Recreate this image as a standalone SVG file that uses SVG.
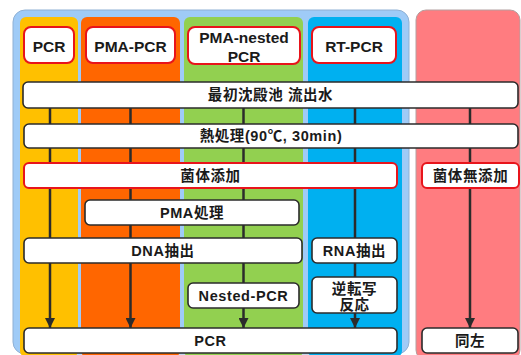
<svg xmlns="http://www.w3.org/2000/svg" width="521" height="355" viewBox="0 0 521 355">
<defs>
<marker id="ah" viewBox="0 0 10 10" refX="10" refY="5" markerWidth="4" markerHeight="4" markerUnits="strokeWidth" orient="auto">
<path d="M0,0 L10,5 L0,10 z" fill="#2b2b2b"/>
</marker>
<style>
.bg{fill:#ffffff}
.panel{stroke:#8fb0d4;stroke-width:1}
.col{stroke:none}
.hdr{fill:#ffffff;stroke:#e8141b;stroke-width:2}
.box{fill:#ffffff;stroke:#2b2b2b;stroke-width:1.6}
.rbox{fill:#ffffff;stroke:#e8141b;stroke-width:2}
.ln{stroke:#2b2b2b;stroke-width:2.5;fill:none;marker-end:url(#ah)}
text{font-family:"Liberation Sans","Noto Sans CJK JP",sans-serif;font-weight:bold;fill:#1a1a1a;text-anchor:middle}
.ht{font-size:15.5px}
.bt{font-size:14.5px;letter-spacing:0.6px}
</style>
</defs>
<rect x="0" y="0" width="521" height="355" class="bg"/>
<g id="panels">
<rect x="13" y="10" width="396" height="344" rx="12" fill="#9fcbf7" class="panel"/>
<rect x="20" y="17" width="58" height="340" rx="6" fill="#ffc000" class="col"/>
<rect x="81" y="17" width="99" height="340" rx="6" fill="#ff6600" class="col"/>
<rect x="184" y="17" width="119" height="340" rx="6" fill="#92d050" class="col"/>
<rect x="308" y="17" width="94" height="340" rx="6" fill="#00b0f0" class="col"/>
<rect x="416" y="10" width="104" height="350" rx="10" fill="#ff7c80" stroke="#b3a0a0" stroke-width="1"/>
</g>
<g id="connectors">
<line x1="50" y1="100" x2="50" y2="328" class="ln"/>
<line x1="130.5" y1="100" x2="130.5" y2="328" class="ln"/>
<line x1="243.5" y1="100" x2="243.5" y2="328" class="ln"/>
<line x1="355" y1="100" x2="355" y2="328" class="ln"/>
<line x1="470" y1="100" x2="470" y2="328" class="ln"/>
</g>
<g id="h-pcr"><rect x="24" y="27" width="50" height="36" rx="7" class="hdr"/><text x="49" y="52" class="ht">PCR</text></g>
<g id="h-pma-pcr"><rect x="86" y="27" width="89" height="36" rx="7" class="hdr"/><text x="130.5" y="52" class="ht">PMA-PCR</text></g>
<g id="h-pma-nested"><rect x="188" y="27" width="112" height="37" rx="7" class="hdr"/><text x="244" y="43" class="ht">PMA-nested</text><text x="244" y="62" class="ht">PCR</text></g>
<g id="h-rt-pcr"><rect x="312" y="27" width="84" height="36" rx="7" class="hdr"/><text x="354" y="52" class="ht">RT-PCR</text></g>
<g id="n-influent"><rect x="23" y="82" width="495" height="26" rx="5" class="box"/><text x="270.5" y="100" class="bt">最初沈殿池 流出水</text></g>
<g id="n-heat"><rect x="24" y="124" width="494" height="24" rx="5" class="box"/><text x="271" y="141" class="bt">熱処理(90℃, 30min)</text></g>
<g id="n-add"><rect x="24" y="163" width="373" height="25" rx="5" class="rbox"/><text x="210.5" y="181" class="bt">菌体添加</text></g>
<g id="n-noadd"><rect x="422" y="163" width="97" height="25" rx="5" class="rbox"/><text x="470.5" y="181" class="bt">菌体無添加</text></g>
<g id="n-pma"><rect x="85" y="200" width="214" height="25" rx="5" class="box"/><text x="192" y="218" class="bt">PMA処理</text></g>
<g id="n-dna"><rect x="24" y="238" width="278" height="25" rx="5" class="box"/><text x="163" y="256" class="bt">DNA抽出</text></g>
<g id="n-rna"><rect x="312" y="238" width="85" height="25" rx="5" class="box"/><text x="354.5" y="256" class="bt">RNA抽出</text></g>
<g id="n-nested"><rect x="188" y="283" width="111" height="25" rx="5" class="box"/><text x="243.5" y="301" class="bt">Nested-PCR</text></g>
<g id="n-rt"><rect x="312" y="277" width="85" height="36" rx="5" class="box"/><text x="354.5" y="294" class="bt">逆転写</text><text x="354.5" y="310" class="bt">反応</text></g>
<g id="n-pcr"><rect x="24" y="328" width="373" height="25" rx="5" class="box"/><text x="210.5" y="346" class="bt">PCR</text></g>
<g id="n-same"><rect x="422" y="328" width="96" height="25" rx="5" class="box"/><text x="470" y="346" class="bt">同左</text></g>
</svg>
